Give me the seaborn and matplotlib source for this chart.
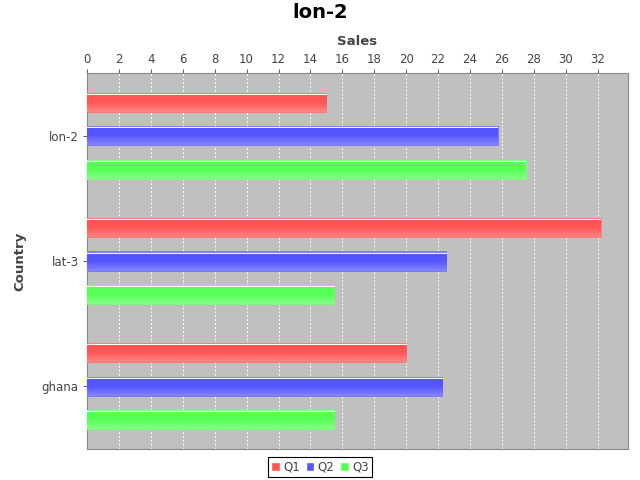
import matplotlib
matplotlib.use("Agg")
import matplotlib.pyplot as plt
import matplotlib.colors as mcolors
import seaborn as sns
import pandas as pd
import numpy as np

# ---- data ----
countries = ["lon-2", "lat-3", "ghana"]
series = ["Q1", "Q2", "Q3"]
q1 = [15.0, 32.2, 20.0]
q2 = [25.75, 22.5, 22.25]
q3 = [27.5, 15.5, 15.5]
colors = ["#FF5555", "#5555FF", "#55FF55"]
title = "lon-2"
x_label = "Sales"
y_label = "Country"
x_ticks = list(range(0, 34, 2))

df = pd.DataFrame({
    "Country": countries * 3,
    "Series": [series[0]] * 3 + [series[1]] * 3 + [series[2]] * 3,
    "Sales": q1 + q2 + q3,
})

sns.set_style("white")
plt.rcParams["font.family"] = ["DejaVu Sans"]

fig = plt.figure(figsize=(6.4, 4.8), dpi=100)
ax = fig.add_axes([87 / 640, 1 - 449 / 480, (628 - 87) / 640, (449 - 73) / 480])
ax.set_facecolor("#C0C0C0")

sns.barplot(data=df, y="Country", x="Sales", hue="Series", order=countries,
            hue_order=series, palette=colors, orient="h", width=0.8, gap=0.43,
            saturation=1, ax=ax, legend=True, zorder=3)

ax.set_xlim(0, 33.9)
ax.set_ylim(2.5, -0.5)

# gradient / highlight look of the bars
for p in list(ax.patches):
    x0, y0 = p.get_x(), p.get_y()
    w, h = p.get_width(), p.get_height()
    if w <= 0:
        continue
    base = np.array(mcolors.to_rgb(p.get_facecolor()))
    white = np.ones(3)
    n = 60
    grad = np.zeros((n, 1, 3))
    for i in range(n):
        t = i / (n - 1)
        if t < 0.07:
            c = base * 0.75 + white * 0.25
        elif t < 0.15:
            c = base * 0.05 + white * 0.95
        elif t < 0.5:
            c = base
        else:
            f = 0.28 * (t - 0.5) / 0.5
            c = base * (1 - f) + white * f
        grad[i, 0] = c
    im = ax.imshow(grad, extent=(x0, x0 + w, y0 + h, y0), aspect="auto",
                   zorder=4, interpolation="nearest")
    im.set_clip_path(p)
    p.set_edgecolor(base * 0.8 + white * 0.2)
    p.set_linewidth(0.6)

ax.set_xlim(0, 33.9)
ax.set_ylim(2.5, -0.5)

# axes styling
ax.xaxis.tick_top()
ax.xaxis.set_label_position("top")
ax.set_xticks(x_ticks)
ax.set_xticklabels([str(t) for t in x_ticks])
ax.tick_params(axis="x", labelsize=8.5, colors="#444444", length=3, width=0.6, pad=2,
               top=True, bottom=False)
ax.tick_params(axis="y", labelsize=8.5, colors="#444444", length=3, width=0.6, pad=3, left=True)
ax.xaxis.grid(True, color="white", linestyle=(0, (2, 2)), linewidth=0.7, zorder=1)
ax.yaxis.grid(False)
ax.set_axisbelow(True)
for s in ax.spines.values():
    s.set_color("#888888")
    s.set_linewidth(0.8)

ax.set_xlabel(x_label, fontsize=9.5, fontweight="bold", color="#444444", labelpad=6)
ax.set_ylabel(y_label, fontsize=9.5, fontweight="bold", color="#444444", labelpad=11)

# legend at bottom
handles, labels = ax.get_legend_handles_labels()
if ax.get_legend() is not None:
    ax.get_legend().remove()
leg = fig.legend(handles, labels, loc="center", bbox_to_anchor=(320 / 640, 1 - 467 / 480),
                 ncol=3, frameon=True, fancybox=False, edgecolor="black", framealpha=1,
                 fontsize=8.5, handlelength=0.7, handleheight=0.7, handletextpad=0.3,
                 columnspacing=0.5, borderpad=0.3, borderaxespad=0)
leg.get_frame().set_linewidth(0.8)
for t in leg.get_texts():
    t.set_color("#444444")

fig.text(0.5, 1 - 13 / 480, title, ha="center", va="center", fontsize=14,
         fontweight="bold", color="black")

fig.savefig("out.png", dpi=100)
